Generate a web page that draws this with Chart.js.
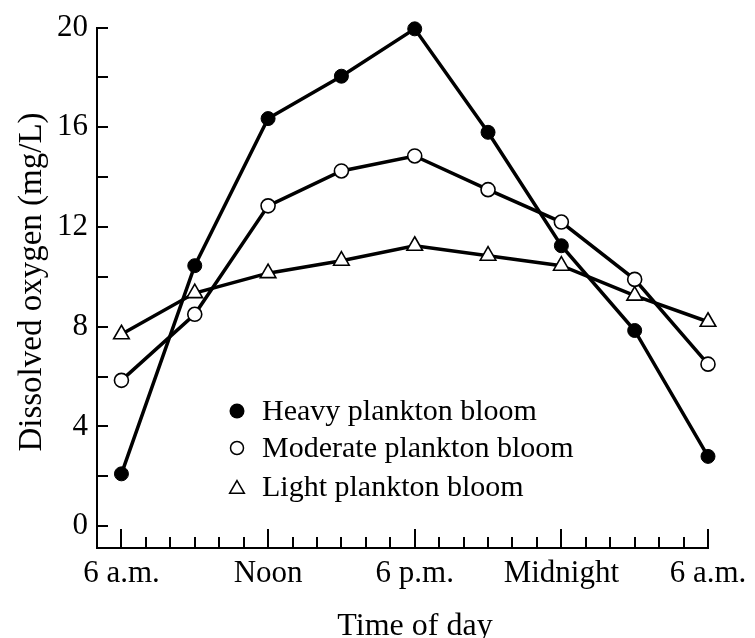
<!DOCTYPE html>
<html>
<head>
<meta charset="utf-8">
<script src="https://cdn.jsdelivr.net/npm/chart.js@4.4.1/dist/chart.umd.min.js"></script>
<style>
  html, body { margin: 0; padding: 0; background: #fff; }
  #wrap { width: 755px; height: 638px; }
</style>
</head>
<body>
<div id="wrap"><canvas id="c" width="755" height="638"></canvas></div>
<script>
// Hours after 6 a.m.
const hours = [0, 3, 6, 9, 12, 15, 18, 21, 24];
const heavy = [2.1, 10.45, 16.35, 18.05, 19.95, 15.8, 11.25, 7.85, 2.8];
const moderate = [5.85, 8.5, 12.85, 14.25, 14.85, 13.5, 12.2, 9.9, 6.5];
const light = [7.7, 9.35, 10.15, 10.65, 11.25, 10.85, 10.45, 9.25, 8.2];

const seriesNames = ['Heavy plankton bloom', 'Moderate plankton bloom', 'Light plankton bloom'];

const xTickValues = [0, 6, 12, 18, 24];
const xTickLabels = ['6 a.m.', 'Noon', '6 p.m.', 'Midnight', '6 a.m.'];
const yTickValues = [0, 4, 8, 12, 16, 20];
const yMinorTicks = [0, 2, 4, 6, 8, 10, 12, 14, 16, 18, 20];
const xMinorTicks = [0,1,2,3,4,5,6,7,8,9,10,11,12,13,14,15,16,17,18,19,20,21,22,23,24];

const xTitle = 'Time of day';
const yTitle = 'Dissolved oxygen (mg/L)';

const FONT = '"Liberation Serif", "Times New Roman", serif';

const toPoints = (arr) => arr.map((v, i) => ({ x: hours[i], y: v }));

const customPlugin = {
  id: 'custom',
  afterDraw(chart) {
    const ctx = chart.ctx;
    const xs = chart.scales.x, ys = chart.scales.y;
    const area = chart.chartArea;
    ctx.save();
    ctx.strokeStyle = '#000';
    ctx.lineWidth = 2;
    // y ticks (inward)
    yMinorTicks.forEach(v => {
      const y = Math.round(ys.getPixelForValue(v));
      ctx.beginPath();
      ctx.moveTo(area.left, y);
      ctx.lineTo(area.left + 11, y);
      ctx.stroke();
    });
    // x ticks (inward)
    xMinorTicks.forEach(v => {
      const x = Math.round(xs.getPixelForValue(v));
      const len = xTickValues.includes(v) ? 19 : 11;
      ctx.beginPath();
      ctx.moveTo(x, area.bottom);
      ctx.lineTo(x, area.bottom - len);
      ctx.stroke();
    });
    // axis titles
    ctx.fillStyle = '#000';
    ctx.textAlign = 'center';
    ctx.textBaseline = 'alphabetic';
    ctx.font = '32px ' + FONT;
    ctx.fillText(xTitle, 415, 635);
    ctx.save();
    ctx.font = '33px ' + FONT;
    ctx.translate(41, 282);
    ctx.rotate(-Math.PI / 2);
    ctx.fillText(yTitle, 0, 0);
    ctx.restore();

    // legend
    const lx = 237, rows = [411, 448, 487];
    ctx.lineWidth = 1.5;
    ctx.beginPath(); ctx.arc(lx, rows[0], 7.5, 0, Math.PI * 2); ctx.fillStyle = '#000'; ctx.fill();
    ctx.beginPath(); ctx.arc(lx, rows[1], 6.5, 0, Math.PI * 2); ctx.fillStyle = '#fff'; ctx.fill(); ctx.stroke();
    const r = 8.5, cy = rows[2] + 2;
    ctx.beginPath();
    ctx.moveTo(lx, cy - r);
    ctx.lineTo(lx + r * Math.sin(2 * Math.PI / 3), cy + r / 2);
    ctx.lineTo(lx - r * Math.sin(2 * Math.PI / 3), cy + r / 2);
    ctx.closePath();
    ctx.fillStyle = '#fff'; ctx.fill(); ctx.stroke();

    ctx.fillStyle = '#000';
    ctx.font = '30px ' + FONT;
    ctx.textAlign = 'left';
    ctx.textBaseline = 'alphabetic';
    seriesNames.forEach((n, i) => ctx.fillText(n, 262, rows[i] + 9));
    ctx.restore();
  }
};

const lineStyle = { borderColor: '#000', borderWidth: 3.5, clip: false };

new Chart(document.getElementById('c'), {
  type: 'line',
  data: {
    datasets: [
      Object.assign({ label: seriesNames[0], data: toPoints(heavy),
        pointStyle: 'circle', pointRadius: 7, pointBackgroundColor: '#000', pointBorderColor: '#000', pointBorderWidth: 1 }, lineStyle),
      Object.assign({ label: seriesNames[1], data: toPoints(moderate),
        pointStyle: 'circle', pointRadius: 7, pointBackgroundColor: '#fff', pointBorderColor: '#000', pointBorderWidth: 1.6 }, lineStyle),
      Object.assign({ label: seriesNames[2], data: toPoints(light),
        pointStyle: 'triangle', pointRadius: 9, pointBackgroundColor: '#fff', pointBorderColor: '#000', pointBorderWidth: 1.6 }, lineStyle)
    ]
  },
  options: {
    responsive: false,
    animation: false,
    devicePixelRatio: 1,
    layout: { padding: { top: 23, right: 47, left: 0, bottom: 0 } },
    plugins: { legend: { display: false }, tooltip: { enabled: false } },
    elements: { line: { tension: 0 } },
    scales: {
      x: {
        type: 'linear', min: -1, max: 24,
        afterBuildTicks(scale) { scale.ticks = xTickValues.map(v => ({ value: v })); },
        afterFit(scale) { scale.height = 90; },
        ticks: {
          autoSkip: false, maxRotation: 0, color: '#000', padding: 7,
          font: { family: FONT, size: 31 },
          callback(v) { const i = xTickValues.indexOf(v); return i >= 0 ? xTickLabels[i] : ''; }
        },
        grid: { display: false, drawTicks: false },
        border: { display: true, color: '#000', width: 2 }
      },
      y: {
        type: 'linear', min: -0.875, max: 20,
        afterBuildTicks(scale) { scale.ticks = yTickValues.map(v => ({ value: v })); },
        afterFit(scale) { scale.width = 97; },
        ticks: { color: '#000', padding: 9, font: { family: FONT, size: 31 } },
        grid: { display: false, drawTicks: false },
        border: { display: true, color: '#000', width: 2 }
      }
    }
  },
  plugins: [customPlugin]
});
</script>
</body>
</html>
